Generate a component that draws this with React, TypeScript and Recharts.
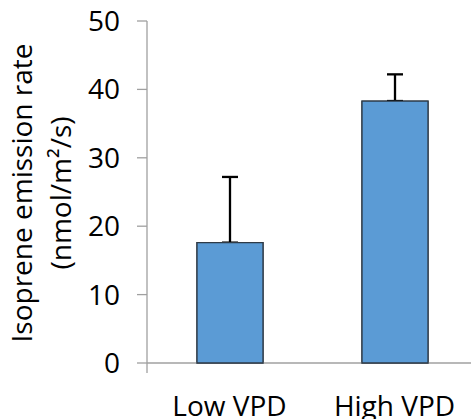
import { BarChart, Bar, XAxis, YAxis, ErrorBar } from 'recharts';

const categories = ['Low VPD', 'High VPD'];
const emissionRate = [17.6, 38.3];
const errorUp = [9.6, 3.9];
const yTicks = [0, 10, 20, 30, 40, 50];
const boundaryTicks = [0, 1, 2];

const data = categories.map((name, i) => ({
  name,
  rate: emissionRate[i],
  err: [0, errorUp[i]],
}));

const FONT = '"Open Sans", sans-serif';
const AXIS_GRAY = '#a0a0a0';
const BAR_W = 66;
const W = 480;
const H = 419;
const MARGIN = { top: 21, right: 3, left: 0, bottom: 0 };

function AxisTitle(props: any) {
  const vb = props.viewBox || { y: 21, height: 342 };
  const cy = vb.y + vb.height / 2 + 1;
  return (
    <g fontFamily={FONT} fontSize={28} fill="#000" textAnchor="middle">
      <text x={32} y={cy} transform={`rotate(-90 32 ${cy})`}>
        Isoprene emission rate
      </text>
      <text x={71} y={cy} transform={`rotate(-90 71 ${cy})`}>
        (nmol/m²/s)
      </text>
    </g>
  );
}

const barStyle = {
  fill: '#5b9bd5',
  stroke: '#2e3a46',
  strokeWidth: 1.3,
};

export default function App() {
  return (
    <div style={{ position: 'fixed', top: 0, left: 0, width: 471, height: 419, overflow: 'hidden', background: '#fff' }}>
      <BarChart width={W} height={H} data={data} margin={MARGIN}>
        {/* category boundary ticks along the bottom */}
        <XAxis
          xAxisId="bounds"
          type="number"
          domain={[0, 2]}
          ticks={boundaryTicks}
          height={1}
          tickSize={10}
          tickFormatter={() => ''}
          stroke={AXIS_GRAY}
          axisLine={{ stroke: AXIS_GRAY, strokeWidth: 1.3 }}
          tickLine={{ stroke: AXIS_GRAY, strokeWidth: 1.3 }}
        />
        <XAxis
          xAxisId="cat"
          dataKey="name"
          height={55}
          axisLine={false}
          tickLine={false}
          tickSize={0}
          tickMargin={32}
          tick={{ fontFamily: FONT, fontSize: 28, fill: '#000' }}
        />
        <YAxis
          domain={[0, 50]}
          ticks={yTicks}
          width={147}
          tickSize={10}
          tickMargin={17}
          interval={0}
          axisLine={{ stroke: AXIS_GRAY, strokeWidth: 1.3 }}
          tickLine={{ stroke: AXIS_GRAY, strokeWidth: 1.3 }}
          tick={{ fontFamily: FONT, fontSize: 28, fill: '#000' }}
          label={{ content: (p: any) => <AxisTitle viewBox={p.viewBox} /> }}
        />
        <Bar xAxisId="cat" dataKey="rate" barSize={BAR_W} {...barStyle} isAnimationActive={false}>
          <ErrorBar dataKey="err" direction="y" width={8} stroke="#000" strokeWidth={2.3} isAnimationActive={false} />
        </Bar>
      </BarChart>

      {/* bars again on a transparent layer so the zero-length lower caps stay hidden */}
      <div style={{ position: 'absolute', top: 0, left: 0 }}>
        <BarChart width={W} height={H} data={data} margin={{ top: 21, right: 3, left: 147, bottom: 56 }}>
          <XAxis dataKey="name" hide />
          <YAxis domain={[0, 50]} hide />
          <Bar dataKey="rate" barSize={BAR_W} {...barStyle} isAnimationActive={false} />
        </BarChart>
      </div>
    </div>
  );
}
